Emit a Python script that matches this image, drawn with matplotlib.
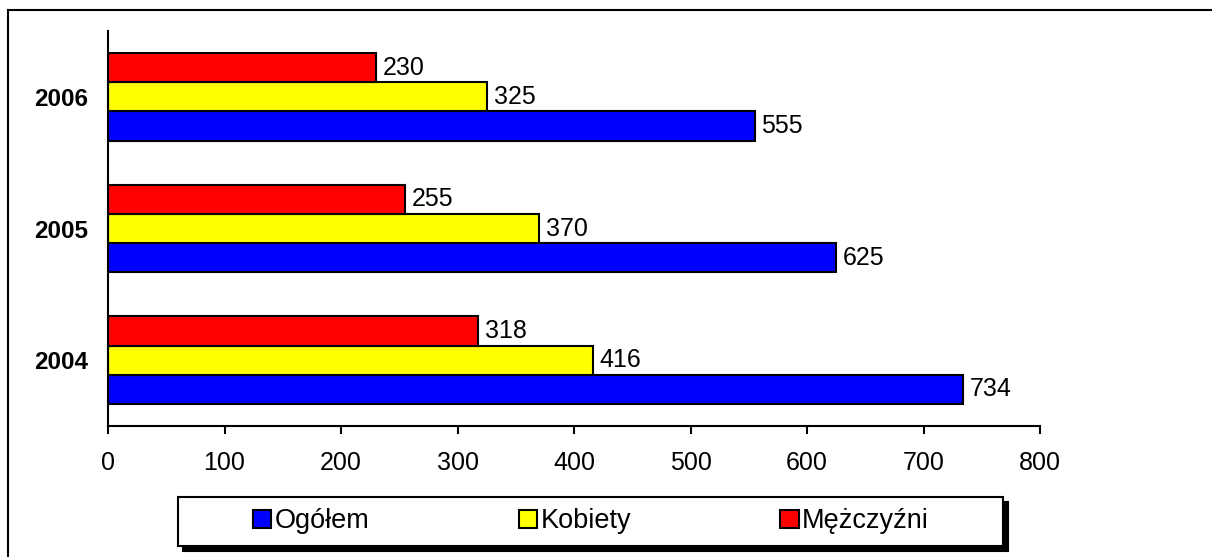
import matplotlib
matplotlib.use("Agg")
import matplotlib.pyplot as plt
from matplotlib.patches import Rectangle
from matplotlib.lines import Line2D
import numpy as np

plt.rcParams['font.family'] = ['Liberation Sans', 'DejaVu Sans']

years = ["2004", "2005", "2006"]
series_names = ["Ogółem", "Kobiety", "Mężczyźni"]
ogolem = [734, 625, 555]
kobiety = [416, 370, 325]
mezczyzni = [318, 255, 230]
colors = ["#0000FF", "#FFFF00", "#FF0000"]
xticks = [0, 100, 200, 300, 400, 500, 600, 700, 800]

W, H = 1212, 557
fig = plt.figure(figsize=(W / 100, H / 100), dpi=100)

# outer frame (extends beyond right/bottom edges)
fig.add_artist(Line2D([8 / W, 1.01], [1 - 10 / H, 1 - 10 / H], transform=fig.transFigure, color='black', lw=1.5))
fig.add_artist(Line2D([8 / W, 8 / W], [-0.01, 1 - 10 / H], transform=fig.transFigure, color='black', lw=1.5))

ax = fig.add_axes([108 / W, (H - 426) / H, 932 / W, 395 / H])

y = np.arange(len(years))
h = 0.222
data = [ogolem, kobiety, mezczyzni]
offsets = [-h, 0, h]
for vals, c, off, name in zip(data, colors, offsets, series_names):
    bars = ax.barh(y + off, vals, height=h, color=c, edgecolor='black', linewidth=1.5, label=name)
    ax.bar_label(bars, labels=[str(v) for v in vals], padding=5, fontsize=18)

ax.set_xlim(0, 800)
ax.set_ylim(-0.5, 2.5)
ax.set_xticks(xticks)
ax.set_xticklabels([str(t) for t in xticks], fontsize=18)
ax.set_yticks(y)
ax.set_yticklabels(years, fontsize=17.5, fontweight='bold')
ax.tick_params(axis='y', length=0, pad=14)
ax.tick_params(axis='x', length=6, width=1.5, direction='out', pad=12)
for s in ['top', 'right']:
    ax.spines[s].set_visible(False)
for s in ['left', 'bottom']:
    ax.spines[s].set_linewidth(1.5)

# legend box with shadow
lx0, ly0, lx1, ly1 = 178, 497, 1003, 546
fig.add_artist(Rectangle(((lx0 + 5) / W, (H - ly1 - 5) / H), (lx1 - lx0) / W, (ly1 - ly0) / H,
                         transform=fig.transFigure, facecolor='black', edgecolor='black', lw=1.5, zorder=1))
fig.add_artist(Rectangle((lx0 / W, (H - ly1) / H), (lx1 - lx0) / W, (ly1 - ly0) / H,
                         transform=fig.transFigure, facecolor='white', edgecolor='black', lw=1.5, zorder=2))

handles = [Rectangle((0, 0), 1, 1, facecolor=c, edgecolor='black', lw=1.5) for c in colors]
leg = fig.legend(handles, series_names, loc='center', ncol=3, mode='expand',
                 bbox_to_anchor=(253 / W, (H - ly1) / H, (929 - 253) / W, (ly1 - ly0) / H),
                 frameon=False, fontsize=19.5, handlelength=0.68, handleheight=0.6,
                 handletextpad=0.12, borderpad=0, borderaxespad=0)
leg.set_zorder(3)

fig.savefig("out.png", dpi=100)
